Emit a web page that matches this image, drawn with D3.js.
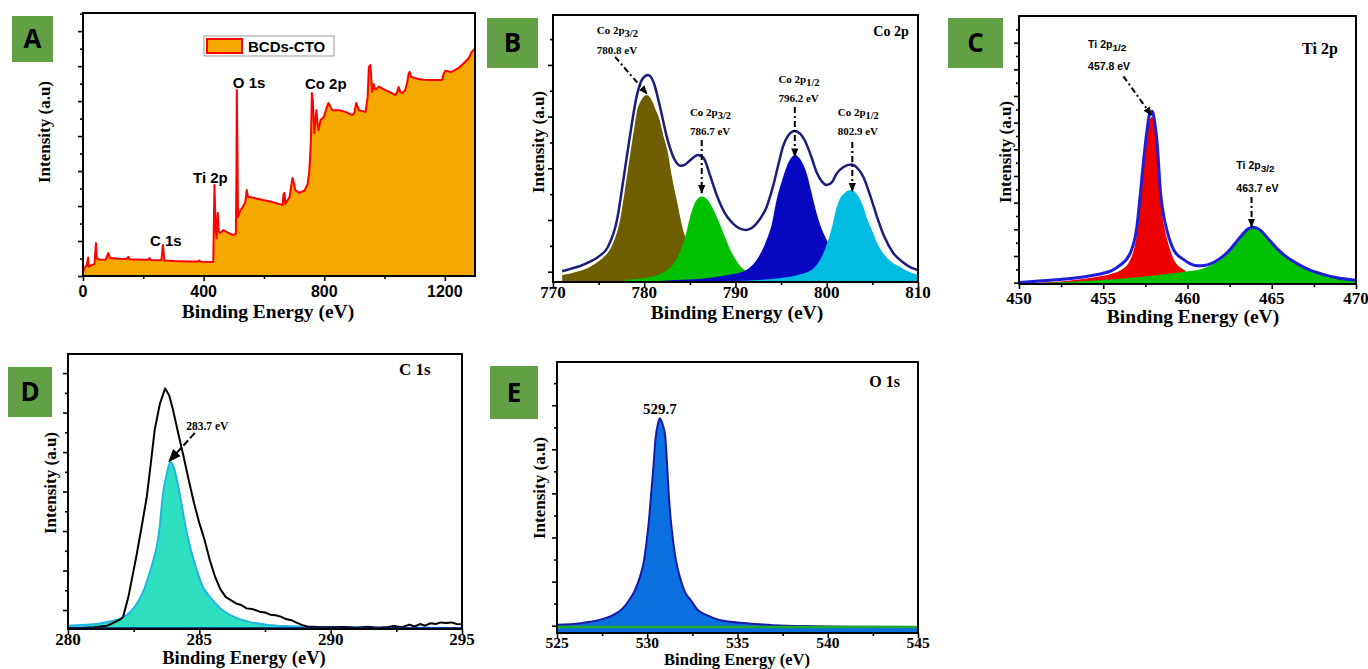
<!DOCTYPE html>
<html><head><meta charset="utf-8">
<script src="https://cdn.jsdelivr.net/npm/d3@7"></script>
<style>body{margin:0;background:#fff}svg{display:block}</style>
</head><body>
<svg id="c" width="1368" height="669"></svg>
<script>
// ---------------- DATA ----------------
// Panel A: survey spectrum [binding energy eV, intensity a.u.]
const surveyA = [[0,1.5],[5,3],[12,4],[17,7],[19,3.5],[25,4],[38,4.5],[43,12.5],[46,6.5],[55,6.3],[75,6.2],[84,8.7],[90,6.8],[120,6.6],[145,6.5],[150,7.3],[155,6.4],[200,6.2],[215,6.2],[220,6.8],[225,6.1],[260,6.0],[265,11.8],[270,5.9],[300,5.7],[350,5.5],[380,5.5],[385,5.9],[390,5.4],[432,5.3],[436,34.6],[440,18],[443,14.4],[447,24],[450,17],[455,16.3],[466,17.5],[480,16.5],[497,15.6],[507,16],[509,40],[510,70.7],[512,50],[514,22.4],[522,25],[530,26.2],[538,28],[543,32.7],[547,30],[552,30],[575,29.5],[596,28.9],[629,28.1],[662,27],[665,31],[668,31.6],[671,27.4],[685,30],[690,33.8],[695,37.3],[700,35],[704,32.7],[717,31.6],[735,32.5],[745,35],[750,39.2],[753,45],[756,51.7],[759,69.6],[762,67],[765,60],[767,54.4],[770,58],[774,63],[778,58],[781,55.5],[788,59.3],[799,60.5],[808,64],[814,65.8],[820,64.5],[827,63],[849,63],[871,62.4],[893,61.2],[900,62],[906,65.8],[912,64],[915,63],[937,62.4],[944,68],[948,79.5],[953,80.2],[956,75],[959,70],[964,73],[968,71],[972,71],[981,72],[1003,70.7],[1020,69.8],[1036,68.8],[1042,70],[1047,71.9],[1052,70],[1058,69.6],[1068,70.5],[1075,73.4],[1080,77],[1083,77.6],[1088,75.8],[1100,75.3],[1113,74.9],[1130,74.6],[1157,74.5],[1190,74.5],[1195,76.5],[1201,78],[1223,77.6],[1245,79],[1267,81.4],[1280,83],[1289,85.2],[1300,86.5]];
const surveyPeaks = [{label:'O 1s',e:497,i:71.5},{label:'Co 2p',e:736,i:71.1},{label:'Ti 2p',e:365,i:35.4},{label:'C 1s',e:222,i:11.4}];
const surveyLegend = ['BCDs-CTO'];

// Panel B: Co 2p
const coEnvelope = [[771,4],[772,5],[773,6],[774,7.5],[775,9.5],[776,13],[777,23],[777.7,38],[778.4,54],[779.2,70],[779.8,76],[780.4,77.5],[781,75],[781.7,66],[782.5,54],[783.3,46],[784,43.5],[784.5,44],[785,45.5],[785.9,47.6],[786.5,46.5],[787.2,40],[788,32],[788.8,26],[789.7,22],[790.5,20],[791.2,19.5],[791.9,20.5],[792.6,23.2],[793.4,28],[794.1,35.7],[794.7,44],[795.2,50.7],[795.8,55],[796.5,56.6],[797.1,55.5],[797.6,53],[798.3,47],[798.9,41],[799.5,37.5],[800,36.3],[800.6,37.5],[801.1,40.7],[801.8,43],[802.7,44],[803.4,42.5],[804,39.4],[804.7,33],[805.5,24.5],[806.3,17],[807.3,10.8],[808.3,7.5],[809.2,5.5],[810,4.5]];
const coPeak1 = [[771,2.6],[772,3.3],[773,4.2],[774.1,5.7],[775,7.8],[775.9,10.7],[776.5,14.5],[777,20.7],[777.4,28],[777.7,35.7],[778.1,45],[778.4,51.9],[778.8,59],[779.2,64.4],[779.7,68.3],[780.3,70],[780.9,67.5],[781.3,64],[781.7,60.7],[782.1,55.5],[782.5,50],[783,40],[783.6,30],[784.3,19],[785,13],[786,8.5],[787.5,5],[789.5,3],[792,1.6],[795,0.8],[800,0.3]];
const coPeak2 = [[778,0.8],[780,1.5],[782,3.5],[783,6],[784,12],[784.5,17],[785,24],[785.7,30.5],[786.3,32],[787,30.5],[787.6,27],[788.3,21.5],[789,15.5],[789.5,11.5],[790,8.5],[790.5,6],[791.5,3.5],[793,1.8],[795,0.8],[798,0.3]];
const coPeak3 = [[782,0.5],[784,0.8],[787,1.5],[789,2.5],[790.9,4],[792.3,8.2],[793.4,15.7],[794,22],[794.5,30.7],[795.1,38],[795.6,43.2],[796.1,46.5],[796.55,47.6],[797.1,46],[797.8,40.7],[798.4,32.5],[798.9,25.7],[799.5,19.5],[800,15.7],[800.8,10.5],[801.5,7.5],[802.5,5],[804,3],[806,1.8],[808,1.1],[810,0.7]];
const coPeak4 = [[790,0.4],[793,0.8],[795,1.5],[797,2.8],[798.5,5],[799.3,8.5],[800,14],[800.6,21],[801.1,28.2],[801.7,32.5],[802.7,34.5],[803.4,32.5],[804,28.2],[804.5,23],[805.1,18.2],[805.6,14],[806.2,10.7],[807,7.8],[808,5.7],[809,3.8],[810,2.6]];
const coLabels = [
  {main:'Co 2p', sub:'3/2', ev:'780.8 eV', e:774.8, i1:92.9, i2:85.4, a0:[776.8,84.3], a1:[780.3,70.5]},
  {main:'Co 2p', sub:'3/2', ev:'786.7 eV', e:785.0, i1:62.2, i2:55.1, a0:[786.3,53.2], a1:[786.3,33.3]},
  {main:'Co 2p', sub:'1/2', ev:'796.2 eV', e:794.7, i1:74.5, i2:67.4, a0:[796.5,65.5], a1:[796.5,47]},
  {main:'Co 2p', sub:'1/2', ev:'802.9 eV', e:801.2, i1:62.2, i2:55.1, a0:[802.8,52.4], a1:[802.8,34]}
];

// Panel C: Ti 2p
const tiEnvelope = [[450,0.6],[452,1.5],[454,2.8],[455,4],[455.5,5],[456,7],[456.6,11.5],[457,21.5],[457.2,33.5],[457.4,46.5],[457.6,57.5],[457.75,63.5],[457.9,64.5],[458.05,60.5],[458.2,52.5],[458.4,34],[458.6,25],[458.8,19.5],[459.2,12.5],[459.8,9],[460.4,7],[460.8,6.8],[461.6,8.2],[462.4,12],[463.2,18],[463.6,20.6],[463.9,21.2],[464.3,20.2],[464.8,16.8],[465.3,13.3],[465.8,10.5],[466.5,7.6],[467.2,5.4],[468,3.7],[468.8,2.4],[470,1.4]];
const tiPeak1 = [[450,0.3],[452,0.7],[453.3,1.5],[454.5,2.5],[455.5,3.8],[456,5],[456.6,9],[457,19],[457.2,31],[457.4,43.8],[457.6,55],[457.75,61],[457.9,62.4],[458.05,58],[458.2,50],[458.4,31.3],[458.6,22],[458.8,16.4],[459.2,9],[459.8,5.2],[460.4,2.7],[461,1.6],[462,0.9],[464,0.4]];
const tiPeak2 = [[450,0.2],[451,0.3],[453,0.8],[455,1.5],[457,2.5],[458.5,3.5],[459.5,4.3],[460.4,5],[460.8,5.5],[461.6,7.7],[462.4,11.5],[463.2,17.6],[463.6,20.2],[463.9,20.8],[464.3,19.8],[464.8,16.4],[465.3,13],[465.8,10.2],[466.5,7.4],[467.2,5.2],[468,3.5],[468.8,2.2],[470,1.2]];
const tiLabels = [
  {main:'Ti 2p', sub:'1/2', ev:'457.8 eV', e:454.1, i1:88.1, i2:79.9, a0:[456.2,77.5], a1:[457.85,63]},
  {main:'Ti 2p', sub:'3/2', ev:'463.7 eV', e:462.9, i1:42.9, i2:34.3, a0:[463.8,32.5], a1:[463.8,21.3]}
];

// Panel D: C 1s
const cRaw = [[280,0.3],[280.5,0.4],[281,0.6],[281.5,1.2],[282,3.5],[282.1,4.5],[282.3,11.7],[282.6,26.3],[282.8,37],[283,48.1],[283.15,60],[283.3,72.4],[283.5,82],[283.7,87.5],[283.85,85],[284,79.6],[284.2,71],[284.4,62.7],[284.6,54],[284.8,45.7],[285,38.5],[285.2,32.4],[285.4,25],[285.6,19],[285.8,14.5],[286,11.7],[286.2,10.5],[286.4,9.3],[286.6,8.7],[286.8,7.5],[287,7.3],[287.3,6.3],[287.5,6],[287.7,5.2],[287.9,5],[288.1,4.5],[288.3,3.6],[288.5,3.2],[288.7,2.3],[288.9,1.5],[289.1,0.9],[289.5,0.7],[290,0.6],[290.5,0.7],[291,0.5],[291.4,0.8],[291.8,0.5],[292.2,0.7],[292.4,1.1],[292.7,0.6],[293,1.6],[293.2,0.9],[293.4,1.8],[293.6,1.2],[293.8,2.1],[294,1.8],[294.2,2.4],[294.4,2.2],[294.6,2.4],[294.8,1.8],[295,1.7]];
const cFit = [[280,1.2],[281.2,2],[281.8,3.2],[282.1,4.2],[282.4,6.5],[282.7,10.5],[282.9,14.5],[283.1,20.2],[283.25,25],[283.4,31],[283.5,38],[283.6,48],[283.75,56],[283.9,60.8],[284.05,58],[284.2,51.7],[284.35,44],[284.5,36],[284.7,28],[284.9,21.5],[285.1,16],[285.4,11.7],[285.8,7.5],[286.3,4.5],[286.9,2.6],[287.6,1.5],[288.5,1],[290,0.6],[292,0.5],[295,0.4]];
const cLabel = {ev:'283.7 eV', e:284.5, i:72.4, a0:[284.83,71.3], a1:[283.85,61]};

// Panel E: O 1s
const oFit = [[525,3.0],[526.3,3.6],[527,4.3],[528.1,6.6],[528.6,8.8],[529,12.2],[529.3,15.5],[529.6,20.8],[529.8,26],[529.95,33.1],[530.1,42],[530.2,50.3],[530.35,62],[530.45,71.2],[530.6,77.5],[530.7,79.2],[530.85,77],[531,72.4],[531.1,62],[531.2,50.3],[531.3,42],[531.45,33.1],[531.6,26.5],[531.8,20.8],[532.1,15],[532.4,12.2],[532.8,8.5],[533.3,6.6],[534,4.8],[535.5,3.6],[537,2.9],[539.2,2.5],[542,2.3],[545,2.2]];
const oBase = [[525,2.2],[545,2.2]];
const oLabel = {text:'529.7', e:530.7, i:80.8};

// Tick labels
const ticksA = [0,400,800,1200], minorA = [200,600,1000];
const ticksB = [770,780,790,800,810], minorB = [775,785,795,805];
const ticksC = [450,455,460,465,470], minorC = [452.5,457.5,462.5,467.5];
const ticksD = [280,285,290,295], minorD = [282.5,287.5,292.5];
const ticksE = [525,530,535,540,545], minorE = [527.5,532.5,537.5,542.5];

// ---------------- DRAWING ----------------
const svg = d3.select('#c');
const SERIF = '"Liberation Serif","Times New Roman",serif';
const SANS = '"Liberation Sans",Arial,sans-serif';
const defs = svg.append('defs');
function marker(id, size){
  defs.append('marker').attr('id',id).attr('markerUnits','userSpaceOnUse')
    .attr('viewBox','0 0 10 10').attr('refX',9).attr('refY',5)
    .attr('markerWidth',size).attr('markerHeight',size).attr('orient','auto')
    .append('path').attr('d','M0,1 L10,5 L0,9 Z').attr('fill','#000');
}
marker('arr',9); marker('arrBig',13);

let clipN = 0;
function panel(p){
  const x = d3.scaleLinear().domain(p.xDomain).range([p.left,p.right]);
  const y = d3.scaleLinear().domain([0,100]).range([p.bottom,p.top]);
  const g = svg.append('g');
  const id = 'clip'+(clipN++);
  defs.append('clipPath').attr('id',id).append('rect')
    .attr('x',p.left).attr('y',p.top).attr('width',p.right-p.left).attr('height',p.bottom-p.top);
  const plot = g.append('g').attr('clip-path',`url(#${id})`);
  return {x,y,g,plot,p};
}
function area(P, data, fill){
  P.plot.append('path').datum(data).attr('fill',fill)
    .attr('d', d3.area().x(d=>P.x(d[0])).y0(P.y(0)).y1(d=>P.y(d[1])).curve(d3.curveMonotoneX));
}
function line(P, data, stroke, w, curve){
  P.plot.append('path').datum(data).attr('fill','none').attr('stroke',stroke).attr('stroke-width',w)
    .attr('stroke-linejoin','round')
    .attr('d', d3.line().x(d=>P.x(d[0])).y(d=>P.y(d[1])).curve(curve||d3.curveMonotoneX));
}
function frame(P, skipBottom){
  const {left,right,top,bottom} = P.p;
  const f = P.g.append('g').attr('stroke','#000').attr('stroke-width',2).attr('stroke-linecap','square');
  f.append('line').attr('x1',left).attr('x2',right).attr('y1',top).attr('y2',top);
  f.append('line').attr('x1',left).attr('x2',left).attr('y1',top).attr('y2',bottom);
  f.append('line').attr('x1',right).attr('x2',right).attr('y1',top).attr('y2',bottom);
  if(!skipBottom) f.append('line').attr('x1',left).attr('x2',right).attr('y1',bottom).attr('y2',bottom);
}
function axes(P, cfg){
  const {left,bottom} = P.p;
  const ax = P.g.append('g').attr('transform',`translate(0,${bottom})`);
  ax.call(d3.axisBottom(P.x).tickValues(cfg.major).tickSize(5).tickFormat(''));
  const ax2 = P.g.append('g').attr('transform',`translate(0,${bottom})`);
  ax2.call(d3.axisBottom(P.x).tickValues(cfg.minor).tickSize(3).tickFormat(''));
  const yt = d3.range(cfg.y0, 100, cfg.ystep/2);
  const ay = P.g.append('g').attr('transform',`translate(${left},0)`);
  ay.call(d3.axisLeft(P.y).tickValues(yt.filter((d,i)=>i%2===0)).tickSize(5).tickFormat(''));
  const ay2 = P.g.append('g').attr('transform',`translate(${left},0)`);
  ay2.call(d3.axisLeft(P.y).tickValues(yt.filter((d,i)=>i%2===1)).tickSize(3).tickFormat(''));
  [ax,ax2,ay,ay2].forEach(a=>{a.select('.domain').remove(); a.selectAll('line').attr('stroke','#000').attr('stroke-width',1.6);});
  P.g.append('g').selectAll('text').data(cfg.major).join('text')
    .attr('x',d=>P.x(d)).attr('y',bottom+cfg.labelDy).attr('text-anchor','middle')
    .attr('font-family',cfg.font).attr('font-weight','bold').attr('font-size',cfg.fs).text(d=>d);
  P.g.append('text').attr('x',cfg.tx).attr('y',cfg.ty).attr('text-anchor','middle')
    .attr('font-family',SERIF).attr('font-weight','bold').attr('font-size',cfg.tfs||19.5).text('Binding Energy (eV)');
  P.g.append('text').attr('transform',`translate(${cfg.yx},${cfg.yy}) rotate(-90)`).attr('text-anchor','middle')
    .attr('font-family',SERIF).attr('font-weight','bold').attr('font-size',17).text('Intensity (a.u)');
}
function badge(x,y,w,h,letter){
  svg.append('rect').attr('x',x).attr('y',y).attr('width',w).attr('height',h).attr('fill','#62a046');
  svg.append('text').attr('x',x+w/2).attr('y',y+h/2+9).attr('text-anchor','middle')
    .attr('font-family','"Open Sans",'+SANS).attr('font-weight','bold').attr('font-size',26).attr('fill','#000').text(letter);
}
function subLabel(P, t, font, fs, x, y){
  const el = P.g.append('text').attr('x',x).attr('y',y).attr('font-family',font).attr('font-weight','bold').attr('font-size',fs);
  el.append('tspan').text(t.main);
  el.append('tspan').attr('dy',3).attr('font-size',fs*0.95).text(t.sub);
}
function arrow(P, a0, a1, dash, mk){
  P.g.append('line').attr('x1',P.x(a0[0])).attr('y1',P.y(a0[1])).attr('x2',P.x(a1[0])).attr('y2',P.y(a1[1]))
    .attr('stroke','#000').attr('stroke-width',2).attr('stroke-dasharray',dash).attr('marker-end',`url(#${mk})`);
}

// ---- Panel A ----
const A = panel({left:83,right:475,top:13,bottom:276,xDomain:[0,1300]});
area(A, surveyA, '#f5a800');
line(A, surveyA, '#ff0000', 2, d3.curveLinear);
frame(A);
axes(A,{major:ticksA,minor:minorA,y0:0,ystep:13.3,labelDy:21,font:SANS,fs:16,tx:268,ty:318,yx:50,yy:132});
A.g.selectAll('text.pk').data(surveyPeaks).join('text').attr('class','pk')
  .attr('x',d=>A.x(d.e)).attr('y',d=>A.y(d.i)).attr('font-family',SANS).attr('font-weight','bold').attr('font-size',15).text(d=>d.label);
const lg = A.g.append('g');
lg.append('rect').attr('x',204).attr('y',36).attr('width',130).attr('height',20).attr('fill','#fff').attr('stroke','#9a9a9a').attr('stroke-width',1);
lg.append('rect').attr('x',207).attr('y',39).attr('width',35).attr('height',14).attr('fill','#f5a800').attr('stroke','#ff0000').attr('stroke-width',2);
lg.append('text').attr('x',248).attr('y',52).attr('font-family',SANS).attr('font-weight','bold').attr('font-size',15).text(surveyLegend[0]);
badge(12,16,41,46,'A');

// ---- Panel B ----
const B = panel({left:553,right:918,top:15,bottom:282,xDomain:[770,810]});
area(B, coPeak1, '#6e5e00');
area(B, coPeak2, '#00c000');
area(B, coPeak3, '#0808c0');
area(B, coPeak4, '#00bce0');
line(B, coEnvelope, '#fff', 6);
line(B, coEnvelope, '#1c1c7a', 2.5);
frame(B);
axes(B,{major:ticksB,minor:minorB,y0:3.86,ystep:19.36,labelDy:16,font:SERIF,fs:17,tx:737,ty:319,yx:544,yy:142});
coLabels.forEach(t=>{
  subLabel(B, t, SERIF, 11, B.x(t.e), B.y(t.i1));
  B.g.append('text').attr('x',B.x(t.e)).attr('y',B.y(t.i2)).attr('font-family',SERIF).attr('font-weight','bold').attr('font-size',11).text(t.ev);
  arrow(B, t.a0, t.a1, '6,3,2,3', 'arr');
});
B.g.append('text').attr('x',B.x(805.1)).attr('y',B.y(92.1)).attr('font-family',SERIF).attr('font-weight','bold').attr('font-size',14).text('Co 2p');
badge(487,18,51,50,'B');

// ---- Panel C ----
const C = panel({left:1019,right:1356,top:16,bottom:284,xDomain:[450,470]});
area(C, tiPeak1, '#ee0000');
area(C, tiPeak2, '#00c000');
line(C, tiEnvelope, '#1e1ed8', 3);
frame(C);
axes(C,{major:ticksC,minor:minorC,y0:0.5,ystep:9.95,labelDy:20,font:SERIF,fs:17,tx:1193,ty:323,yx:1011,yy:152});
tiLabels.forEach(t=>{
  subLabel(C, t, SANS, 10.5, C.x(t.e), C.y(t.i1));
  C.g.append('text').attr('x',C.x(t.e)).attr('y',C.y(t.i2)).attr('font-family',SANS).attr('font-weight','bold').attr('font-size',10.5).text(t.ev);
  arrow(C, t.a0, t.a1, '6,3,2,3', 'arr');
});
C.g.append('text').attr('x',C.x(466.8)).attr('y',C.y(85.8)).attr('font-family',SERIF).attr('font-weight','bold').attr('font-size',16).text('Ti 2p');
badge(948,18,55,50,'C');

// ---- Panel D ----
const D = panel({left:68,right:462,top:354,bottom:629,xDomain:[280,295]});
area(D, cFit, '#2ee0c0');
line(D, cFit, '#20b4e6', 2);
line(D, cRaw, '#000', 2, d3.curveLinear);
D.plot.append('line').attr('x1',D.x(280)).attr('x2',D.x(295)).attr('y1',D.y(0.3)).attr('y2',D.y(0.3)).attr('stroke','#14147a').attr('stroke-width',2);
frame(D);
axes(D,{major:ticksD,minor:minorD,y0:6.9,ystep:14.36,labelDy:16,font:SERIF,fs:17,tx:244,ty:664,tfs:18.5,yx:56,yy:483});
D.g.append('text').attr('x',D.x(cLabel.e)).attr('y',D.y(cLabel.i)).attr('font-family',SERIF).attr('font-weight','bold').attr('font-size',11.5).text(cLabel.ev);
arrow(D, cLabel.a0, cLabel.a1, '7,3', 'arrBig');
D.g.append('text').attr('x',D.x(292.6)).attr('y',D.y(92.4)).attr('font-family',SERIF).attr('font-weight','bold').attr('font-size',17).text('C 1s');
badge(8,367,44,50,'D');

// ---- Panel E ----
const E = panel({left:557,right:918,top:362,bottom:633,xDomain:[525,545]});
E.g.append('line').attr('x1',557).attr('x2',918).attr('y1',633).attr('y2',633).attr('stroke','#000').attr('stroke-width',2);
area(E, oFit, '#0a70e0');
line(E, oFit, '#1a1aa8', 2);
line(E, oBase, '#1fa82a', 2.5, d3.curveLinear);
frame(E, true);
axes(E,{major:ticksE,minor:minorE,y0:2.7,ystep:16.27,labelDy:14.5,font:SERIF,fs:15.5,tx:737,ty:665.3,tfs:16.5,yx:545,yy:488});
E.g.append('text').attr('x',E.x(oLabel.e)).attr('y',E.y(oLabel.i)).attr('text-anchor','middle').attr('font-family',SERIF).attr('font-weight','bold').attr('font-size',15).text(oLabel.text);
E.g.append('text').attr('x',E.x(542.3)).attr('y',E.y(90.8)).attr('font-family',SERIF).attr('font-weight','bold').attr('font-size',16).text('O 1s');
badge(490,366,48,53,'E');
</script>
</body></html>
